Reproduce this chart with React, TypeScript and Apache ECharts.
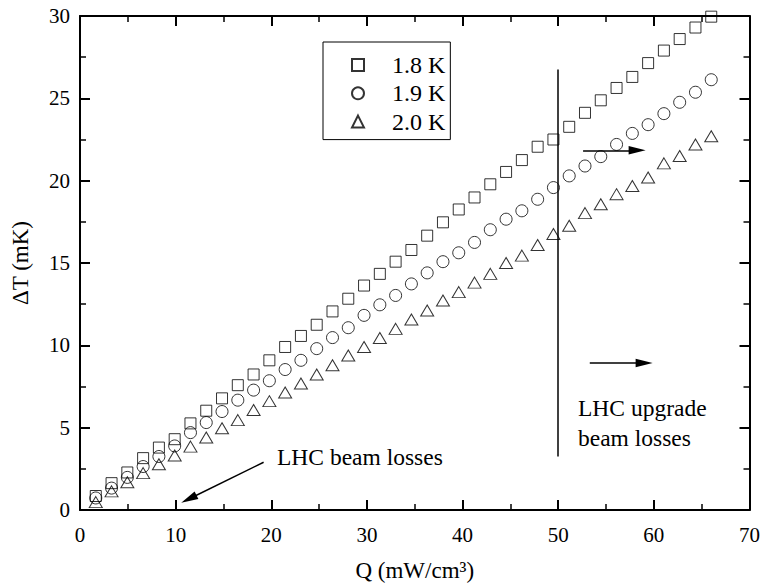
import React, { useEffect, useRef } from "react";
import * as echarts from "echarts";

const Q = [1.65, 3.3, 4.95, 6.6, 8.25, 9.9, 11.55, 13.2, 14.85, 16.5, 18.15, 19.8, 21.45, 23.1, 24.75, 26.4, 28.05, 29.7, 31.35, 33.0, 34.65, 36.3, 37.95, 39.6, 41.25, 42.9, 44.55, 46.2, 47.85, 49.5, 51.15, 52.8, 54.45, 56.1, 57.75, 59.4, 61.05, 62.7, 64.35, 66.0];
const dT18 = [0.85, 1.63, 2.28, 3.15, 3.79, 4.3, 5.26, 6.03, 6.78, 7.58, 8.23, 9.09, 9.9, 10.57, 11.25, 12.06, 12.83, 13.63, 14.34, 15.08, 15.79, 16.66, 17.47, 18.25, 18.98, 19.78, 20.53, 21.25, 22.06, 22.5, 23.27, 24.12, 24.88, 25.63, 26.3, 27.14, 27.9, 28.6, 29.3, 29.96];
const dT19 = [0.73, 1.33, 1.98, 2.64, 3.25, 3.89, 4.7, 5.31, 5.98, 6.67, 7.28, 7.85, 8.53, 9.09, 9.8, 10.47, 11.07, 11.82, 12.46, 13.03, 13.73, 14.4, 15.08, 15.62, 16.25, 17.02, 17.66, 18.17, 18.87, 19.58, 20.29, 20.89, 21.46, 22.2, 22.87, 23.4, 24.07, 24.76, 25.37, 26.13];
const dT20 = [0.48, 1.13, 1.69, 2.24, 2.78, 3.31, 3.85, 4.4, 4.96, 5.46, 6.07, 6.61, 7.14, 7.68, 8.23, 8.79, 9.38, 9.9, 10.45, 11.0, 11.57, 12.12, 12.72, 13.23, 13.81, 14.34, 15.0, 15.45, 16.09, 16.76, 17.26, 18.03, 18.57, 19.18, 19.68, 20.19, 21.05, 21.5, 22.2, 22.7];
const seriesNames = ["1.8 K", "1.9 K", "2.0 K"];

const FONT = "'Liberation Serif', 'Times New Roman', serif";
// narrow arrow head inside a square bounding box (the M points widen the box)
const arrowPath = "path://M0,0 M16,16 M8,0 L12,16 L4,16 Z";

function axisCommon(showLabels: boolean) {
  return {
    axisLine: { show: true, onZero: false, lineStyle: { color: "#000", width: 2 } },
    axisTick: { show: true, inside: true, length: 10, lineStyle: { color: "#000", width: 2 } },
    minorTick: { show: true, splitNumber: 2, length: 6, lineStyle: { color: "#000", width: 1.5 } },
    splitLine: { show: false },
    axisLabel: { show: showLabels, color: "#000", fontSize: 21, fontFamily: FONT },
  };
}

export default function App() {
  const ref = useRef<HTMLDivElement>(null);
  useEffect(() => {
    if (!ref.current) return;
    const chart = echarts.init(ref.current, null, { renderer: "svg" });
    const mk = (ys: number[]) => Q.map((q, i) => [q, ys[i]]);
    const markerStyle = { color: "transparent", borderColor: "#000", borderWidth: 1 };
    chart.setOption({
      animation: false,
      backgroundColor: "#fff",
      textStyle: { fontFamily: FONT },
      grid: { left: 80, right: 9, top: 16, bottom: 75 },
      xAxis: [
        {
          type: "value", min: 0, max: 70, interval: 10, position: "bottom",
          ...axisCommon(true),
          axisLabel: { show: true, color: "#000", fontSize: 21, fontFamily: FONT, margin: 14 },
          name: "Q (mW/cm³)", nameLocation: "middle", nameGap: 49,
          nameTextStyle: { color: "#000", fontSize: 23, fontFamily: FONT },
        },
        { type: "value", min: 0, max: 70, interval: 10, position: "top", ...axisCommon(false) },
      ],
      yAxis: [
        {
          type: "value", min: 0, max: 30, interval: 5, position: "left",
          ...axisCommon(true),
          axisLabel: { show: true, color: "#000", fontSize: 21, fontFamily: FONT, margin: 10 },
          name: "ΔT (mK)", nameLocation: "middle", nameGap: 48,
          nameTextStyle: { color: "#000", fontSize: 23, fontFamily: FONT },
        },
        { type: "value", min: 0, max: 30, interval: 5, position: "right", ...axisCommon(false) },
      ],
      legend: {
        orient: "vertical", left: 323, top: 42,
        padding: [11, 5, 6, 28],
        itemWidth: 12, itemHeight: 12, itemGap: 4.3,
        borderColor: "#000", borderWidth: 1,
        textStyle: { color: "#000", fontSize: 24, fontFamily: FONT, lineHeight: 24, padding: [0, 0, 0, 23] },
        data: seriesNames,
      },
      series: [
        {
          name: seriesNames[0], type: "scatter", symbol: "rect", symbolSize: 11,
          itemStyle: markerStyle, data: mk(dT18),
          markLine: {
            silent: true, animation: false,
            label: { show: false },
            lineStyle: { color: "#000", width: 1.5, type: "solid" },
            symbol: ["none", "none"],
            data: [
              [{ coord: [50, 3.25] }, { coord: [50, 26.75] }],
              [{ coord: [52.6, 21.84] }, { coord: [58.25, 21.84], symbol: arrowPath, symbolSize: 17 }],
              [{ coord: [53.3, 8.93] }, { coord: [58.98, 8.93], symbol: arrowPath, symbolSize: 17 }],
              [{ coord: [19.2, 2.9] }, { coord: [11.38, 0.67], symbol: arrowPath, symbolSize: 17 }],
            ],
          },
        },
        { name: seriesNames[1], type: "scatter", symbol: "circle", symbolSize: 12, itemStyle: markerStyle, data: mk(dT19) },
        { name: seriesNames[2], type: "scatter", symbol: "triangle", symbolSize: [13, 11], itemStyle: markerStyle, data: mk(dT20) },
      ],
      graphic: [
        { type: "text", left: 277, top: 445, style: { text: "LHC beam losses", fill: "#000", font: `23.5px ${FONT}` } },
        { type: "text", left: 578, top: 393, style: { text: "LHC upgrade\nbeam losses", fill: "#000", font: `23.5px ${FONT}`, lineHeight: 30 } },
      ],
    });
    return () => chart.dispose();
  }, []);
  return <div ref={ref} style={{ width: 763, height: 587, position: "absolute", left: 0, top: 0 }} />;
}
